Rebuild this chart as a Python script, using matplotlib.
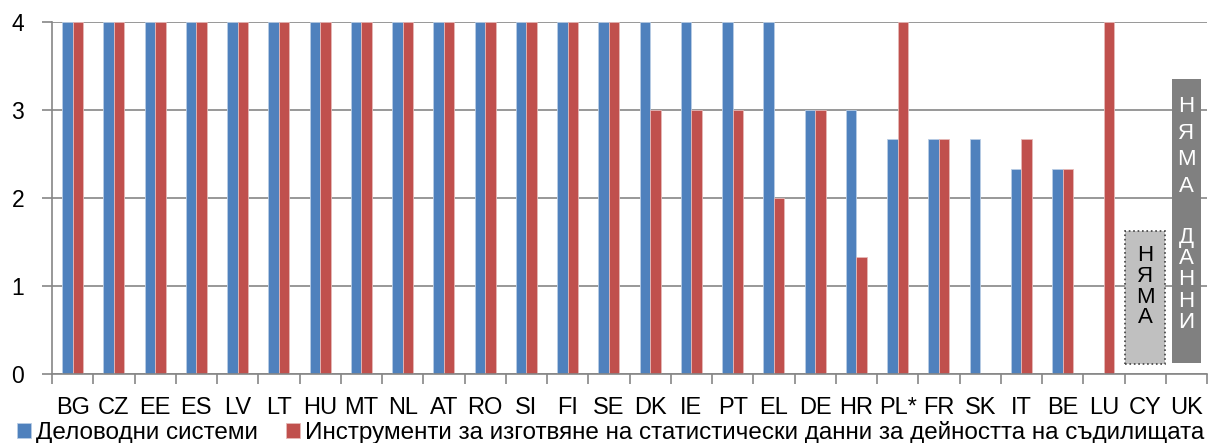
import numpy as np
import matplotlib
matplotlib.use("Agg")
from matplotlib import pyplot as plt
from matplotlib.patches import Rectangle

plt.rcParams['font.family'] = ['Liberation Sans', 'DejaVu Sans']

countries = ['BG', 'CZ', 'EE', 'ES', 'LV', 'LT', 'HU', 'MT', 'NL', 'AT', 'RO', 'SI', 'FI', 'SE',
             'DK', 'IE', 'PT', 'EL', 'DE', 'HR', 'PL*', 'FR', 'SK', 'IT', 'BE', 'LU', 'CY', 'UK']
case_mgmt = [4, 4, 4, 4, 4, 4, 4, 4, 4, 4, 4, 4, 4, 4,
             4, 4, 4, 4, 3, 3, 2.67, 2.67, 2.67, 2.33, 2.33, 0, 0, 0]
stats_tools = [4, 4, 4, 4, 4, 4, 4, 4, 4, 4, 4, 4, 4, 4,
               3, 3, 3, 2, 3, 1.33, 4, 2.67, 0, 2.67, 2.33, 4, 0, 0]
labels = ['Деловодни системи',
          'Инструменти за изготвяне на статистически данни за дейността на съдилищата']

blue = '#4f81bd'
red = '#c0504d'
grid_c = '#868686'

fig = plt.figure(figsize=(12.18, 4.43), dpi=100)
ax = fig.add_axes([52/1218, 1-374/443, (1207-52)/1218, (374-22)/443])

x = np.arange(len(countries))
w = 0.255
b1 = ax.bar(x - w/2, case_mgmt, w, color=blue, edgecolor='#b9cde5', linewidth=0.6, label=labels[0])
b2 = ax.bar(x + w/2, stats_tools, w, color=red, edgecolor='#e6b9b8', linewidth=0.6, label=labels[1])

ax.set_xlim(-0.5, len(countries) - 0.5)
ax.set_ylim(0, 4)
ax.set_yticks([0, 1, 2, 3, 4])
ax.yaxis.grid(True, color=grid_c, linewidth=1.2)
ax.set_axisbelow(True)
for s in ['top', 'right']:
    ax.spines[s].set_visible(False)
for s in ['left', 'bottom']:
    ax.spines[s].set_color(grid_c)
    ax.spines[s].set_linewidth(1.2)

ax.set_xticks(x)
ax.set_xticklabels(countries, fontsize=17)
ax.tick_params(axis='x', length=0, pad=16.5)
ax.set_xticks(np.arange(len(countries) + 1) - 0.5, minor=True)
ax.tick_params(axis='x', which='minor', length=7, color=grid_c, width=1.2)
ax.tick_params(axis='y', labelsize=16.5, length=7, color=grid_c, width=1.2, pad=13)

# "no data" boxes for CY and UK
cy = countries.index('CY')
uk = countries.index('UK')
ax.add_patch(Rectangle((cy - 0.49, 0.11), 0.98, 1.52, facecolor='#c0c0c0',
                       edgecolor='#404040', linestyle=':', linewidth=1.2, zorder=3))
ax.text(cy, 0.99, 'Н\nЯ\nМ\nА', ha='center', va='center', fontsize=16,
        linespacing=0.98, color='black', zorder=4)
ax.add_patch(Rectangle((uk - 0.36, 0.13), 0.72, 3.22, facecolor='#808080',
                       edgecolor='none', zorder=3))
ax.text(uk, 2.585, 'Н\nЯ\nМ\nА', ha='center', va='center', fontsize=16,
        linespacing=1.36, color='white', zorder=4)
ax.text(uk, 1.07, 'Д\nА\nН\nН\nИ', ha='center', va='center', fontsize=16,
        linespacing=1.02, color='white', zorder=4)

fig.legend(handles=[b1, b2], labels=labels, loc='lower left', bbox_to_anchor=(0.0, -0.04),
           ncol=2, frameon=False, fontsize=17.5, handlelength=0.58, handleheight=0.58,
           handletextpad=0.2, columnspacing=1.15, borderpad=0.2)

fig.savefig('out.png', dpi=100)
